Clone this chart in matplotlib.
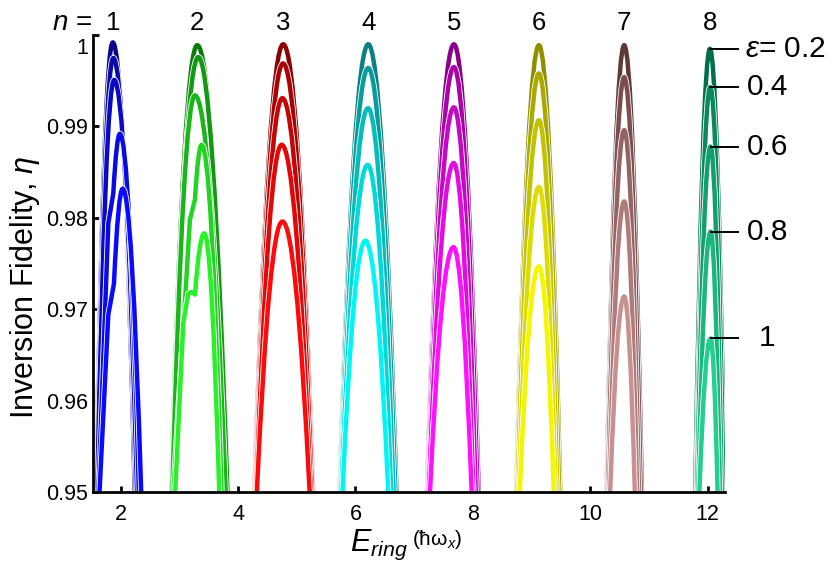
import numpy as np
import matplotlib
matplotlib.use("Agg")
import matplotlib.pyplot as plt
import matplotlib.patheffects as pe
from matplotlib.path import Path
from matplotlib.patches import PathPatch
from matplotlib.colors import to_rgb
from matplotlib.ticker import FuncFormatter
from matplotlib.transforms import ScaledTranslation

plt.rcParams['font.family'] = ['Liberation Sans', 'DejaVu Sans']
plt.rcParams['mathtext.fontset'] = 'custom'
plt.rcParams['mathtext.rm'] = 'Liberation Sans'
plt.rcParams['mathtext.it'] = 'Liberation Sans:italic'
plt.rcParams['mathtext.bf'] = 'Liberation Sans:bold'

# ring index n and anharmonicity eps
N_VALUES = [1, 2, 3, 4, 5, 6, 7, 8]
EPS_VALUES = [0.2, 0.4, 0.6, 0.8, 1.0]
EPS_LABELS = ['0.2', '0.4', '0.6', '0.8', '1']

# resonance maxima: ring energy and fidelity, one row per n, one column per eps
PEAK_E = [
    [1.865, 1.875, 1.890, 1.988, 2.035],
    [3.305, 3.322, 3.266, 3.380, 3.424],
    [4.770, 4.768, 4.756, 4.743, 4.756],
    [6.218, 6.218, 6.215, 6.210, 6.170],
    [7.678, 7.678, 7.678, 7.675, 7.670],
    [9.126, 9.126, 9.126, 9.126, 9.126],
    [10.579, 10.579, 10.579, 10.579, 10.579],
    [12.039, 12.045, 12.050, 12.050, 12.050],
]
PEAK_ETA = [
    [0.9992, 0.9975, 0.9951, 0.9892, 0.9832],
    [0.9989, 0.9976, 0.9934, 0.9880, 0.9783],
    [0.9990, 0.9969, 0.9931, 0.9880, 0.9796],
    [0.9990, 0.9964, 0.9920, 0.9858, 0.9775],
    [0.9990, 0.9965, 0.9921, 0.9860, 0.9768],
    [0.9989, 0.9958, 0.9907, 0.9834, 0.9747],
    [0.9989, 0.9954, 0.9896, 0.9818, 0.9714],
    [0.9985, 0.9943, 0.9878, 0.9785, 0.9668],
]
# ring energies where each resonance drops to eta = 0.95
FOOT_LEFT = [
    [1.58, 1.59, 1.60, 1.62, 1.64],
    [2.86, 2.87, 2.88, 2.90, 2.93],
    [4.28, 4.29, 4.30, 4.31, 4.32],
    [5.73, 5.74, 5.75, 5.76, 5.78],
    [7.22, 7.23, 7.24, 7.25, 7.27],
    [8.74, 8.75, 8.76, 8.78, 8.80],
    [10.28, 10.29, 10.30, 10.32, 10.34],
    [11.79, 11.81, 11.82, 11.84, 11.86],
]
FOOT_RIGHT = [
    [2.24, 2.26, 2.28, 2.31, 2.35],
    [3.83, 3.82, 3.79, 3.72, 3.68],
    [5.28, 5.27, 5.26, 5.24, 5.22],
    [6.70, 6.68, 6.65, 6.61, 6.56],
    [8.10, 8.08, 8.05, 8.01, 7.98],
    [9.49, 9.47, 9.44, 9.41, 9.38],
    [10.88, 10.86, 10.83, 10.80, 10.76],
    [12.29, 12.27, 12.24, 12.21, 12.17],
]
# irregular rising flanks for the two lowest rings, (E, eta) from bottom up
KINKS = {
    (0, 3): [(1.79, 0.9794), (1.875, 0.9827)],
    (0, 4): [(1.79, 0.9694), (1.886, 0.9728)],
    (1, 3): [(3.18, 0.9798), (3.266, 0.9820)],
    (1, 4): [(3.067, 0.9685), (3.152, 0.9717), (3.209, 0.9719), (3.267, 0.9716)],
}

ETA_MIN = 0.95

# dark -> light shade for each n
GROUP_COLORS = [
    ('#08088c', '#0a0aff'),
    ('#0b7a0b', '#2af02a'),
    ('#8b0000', '#ff0a0a'),
    ('#0a8080', '#00f5f5'),
    ('#8b008b', '#ff10ff'),
    ('#8f8f00', '#f5f500'),
    ('#5f3838', '#c99090'),
    ('#00704a', '#22cf8c'),
]


def shade(dark, light, k, n):
    a, b = np.array(to_rgb(dark)), np.array(to_rgb(light))
    t = k / (n - 1)
    return tuple((1 - t) * a + t * b)


def resonance_path(xl, c, p, xr, kinks=()):
    verts = [(xl, ETA_MIN)]
    codes = [Path.MOVETO]
    for pt in kinks:
        verts.append(pt)
        codes.append(Path.LINETO)
    x0 = verts[-1][0]
    verts += [((x0 + c) / 2, p), (c, p), ((c + xr) / 2, p), (xr, ETA_MIN)]
    codes += [Path.CURVE3] * 4
    return Path(verts, codes)


fig = plt.figure(figsize=(8.4, 5.62), dpi=100)
ax = fig.add_axes([0.111, 0.1246, 0.752, 0.813])

lw = 3.2
for i, n in enumerate(N_VALUES):
    for k, eps in enumerate(EPS_VALUES):
        path = resonance_path(FOOT_LEFT[i][k], PEAK_E[i][k], PEAK_ETA[i][k],
                              FOOT_RIGHT[i][k], KINKS.get((i, k), ()))
        patch = PathPatch(path, fill=False, lw=lw,
                          edgecolor=shade(*GROUP_COLORS[i], k, len(EPS_VALUES)),
                          joinstyle='round', capstyle='butt', zorder=2)
        patch.set_path_effects([pe.Stroke(linewidth=lw + 1.2, foreground='white'),
                                pe.Normal()])
        ax.add_patch(patch)

ax.set_xlim(1.533, 12.295)
ax.set_ylim(0.95, 1.0)
ax.set_xticks([2, 4, 6, 8, 10, 12])
ax.set_yticks([0.95, 0.96, 0.97, 0.98, 0.99, 1.0])
ax.yaxis.set_major_formatter(FuncFormatter(lambda v, _: f'{v:.2f}'.rstrip('0').rstrip('.')))
for side in ('top', 'right'):
    ax.spines[side].set_visible(False)
for side in ('left', 'bottom'):
    ax.spines[side].set_linewidth(2)
ax.tick_params(direction='in', length=4.3, width=2, labelsize=15.5)
ax.tick_params(axis='x', pad=9.0)
ax.tick_params(axis='y', pad=3.6)

# the top label "1" sits a little below its tick
fig.canvas.draw()
top_label = ax.yaxis.get_major_ticks()[-1].label1
top_label.set_transform(top_label.get_transform()
                        + ScaledTranslation(0, -8 / 72, fig.dpi_scale_trans))

# ring index above each resonance family
trans = ax.get_xaxis_transform()
for i, n in enumerate(N_VALUES):
    ax.text(PEAK_E[i][0], 1.026, str(n), transform=trans, ha='center', va='center',
            fontsize=18.5)
ax.annotate('$n$ =', xy=(PEAK_E[0][0], 1.026), xycoords=trans,
            xytext=(-15, 0), textcoords='offset points', ha='right', va='center',
            fontsize=20)

# eps markers on the n = 8 family
for k, lab in enumerate(EPS_LABELS):
    e0, h0 = PEAK_E[-1][k], PEAK_ETA[-1][k]
    ax.plot([e0, 12.52], [h0, h0], color='black', lw=1.4, clip_on=False, zorder=3)
    if k == 0:
        ax.text(12.63, h0, r'$\varepsilon$= ' + lab, ha='left', va='center',
                fontsize=21.5, clip_on=False)
    else:
        ax.text(13.02, h0, lab, ha='center', va='center', fontsize=21.5, clip_on=False)

fig.text(0.0298, 0.4884, r'Inversion Fidelity, $\eta$', rotation=90,
         ha='center', va='center', fontsize=22)
fig.text(0.4167, 0.02, r'$E_{ring}$', ha='left', va='baseline', fontsize=22)
fig.text(0.4905, 0.031, r'(ħω$_x$)', ha='left', va='baseline', fontsize=15)

fig.savefig('out.png', dpi=100)
